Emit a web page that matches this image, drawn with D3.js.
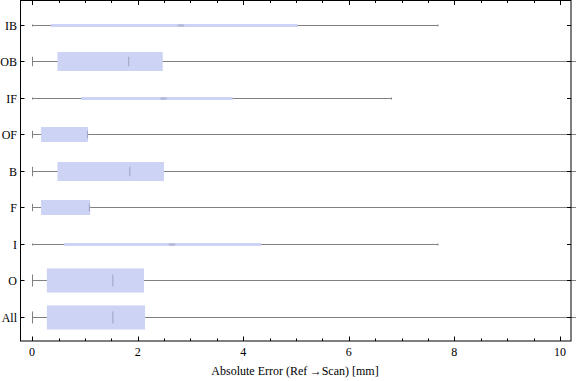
<!DOCTYPE html>
<html><head><meta charset="utf-8">
<script src="https://cdn.jsdelivr.net/npm/d3@7"></script>
<style>body{margin:0;background:#fff}svg{display:block}</style>
</head><body>
<svg id="c" width="576" height="381"></svg>
<script>
const categories = ["IB","OB","IF","OF","B","F","I","O","All"];
const mins    = [0,0,0,0,0,0,0,0,0];
const q1s     = [0.36,0.48,0.93,0.17,0.48,0.17,0.61,0.28,0.28];
const medians = [2.82,1.83,2.49,1.05,1.85,1.085,2.65,1.53,1.53];
const q3s     = [5.03,2.475,3.80,1.06,2.50,1.10,4.34,2.12,2.14];
const maxs    = [7.69,10.9,6.81,10.9,10.9,10.9,7.69,10.9,10.9];
const relWidths = [0.08,0.52,0.08,0.41,0.52,0.41,0.08,0.66,0.66];
const xTicks = [0,2,4,6,8,10];
const xTitle = "Absolute Error (Ref\u2009\u2192Scan) [mm]";

const svg = d3.select("#c");
const L=20.5, R=571, T=0.5, B=341;
const x = d3.scaleLinear().domain([-0.22,10.21]).range([L,R]);
const y = d3.scalePoint().domain(categories).range([T,B]).padding(0.66);
const step = y.step();
const font = "'Liberation Serif','Times New Roman',serif";

const data = categories.map((c,i)=>({c,min:mins[i],q1:q1s[i],med:medians[i],q3:q3s[i],max:maxs[i],w:relWidths[i]*step}));

const g = svg.append("g");
data.forEach(d=>{
  const cy = Math.round(y(d.c))+0.5;
  g.append("line").attr("x1",x(d.min)).attr("x2",x(d.max)).attr("y1",cy).attr("y2",cy)
    .attr("stroke","#808080").attr("stroke-width",1);
  const capH = Math.max(d.w/2,2);
  g.append("line").attr("x1",Math.round(x(d.min))+0.5).attr("x2",Math.round(x(d.min))+0.5)
    .attr("y1",cy-capH/2).attr("y2",cy+capH/2).attr("stroke","#808080");
  if (x(d.max) < R) {
    g.append("line").attr("x1",x(d.max)).attr("x2",x(d.max))
      .attr("y1",cy-capH/2).attr("y2",cy+capH/2).attr("stroke","#808080");
  }
  g.append("rect").attr("x",x(d.q1)).attr("width",x(d.q3)-x(d.q1))
    .attr("y",cy-d.w/2).attr("height",d.w).attr("fill","#ccd3f5");
  if (d.w > 6) {
    g.append("line").attr("x1",x(d.med)).attr("x2",x(d.med))
      .attr("y1",cy-d.w/4).attr("y2",cy+d.w/4).attr("stroke","#a3a6c2").attr("stroke-width",1.1);
  } else {
    g.append("ellipse").attr("cx",x(d.med)).attr("cy",cy).attr("rx",3.5).attr("ry",1.3)
      .attr("fill","#a0a3bd").attr("opacity",0.55);
  }
});

// frame
svg.append("rect").attr("x",L).attr("y",T).attr("width",R-L).attr("height",B-T)
  .attr("fill","none").attr("stroke","#000").attr("stroke-width",1);

// x ticks bottom and top
const minor = d3.range(0,10.01,0.5);
minor.forEach(v=>{
  const major = Math.abs(v%2)<1e-9;
  const len = major?4.5:2.5;
  const px = Math.round(x(v))+0.5;
  svg.append("line").attr("x1",px).attr("x2",px).attr("y1",B).attr("y2",B-len).attr("stroke","#000");
  svg.append("line").attr("x1",px).attr("x2",px).attr("y1",T).attr("y2",T+len).attr("stroke","#000");
});
xTicks.forEach(v=>{
  svg.append("text").attr("x",x(v)).attr("y",356).attr("text-anchor","middle")
    .attr("font-family",font).attr("font-size",12).attr("fill","#000").text(v);
});
svg.append("text").attr("x",295).attr("y",375).attr("text-anchor","middle")
  .attr("font-family",font).attr("font-size",12).attr("fill","#000").text(xTitle);

// y ticks
categories.forEach(c=>{
  const cy = Math.round(y(c))+0.5;
  svg.append("line").attr("x1",L).attr("x2",L+4).attr("y1",cy).attr("y2",cy).attr("stroke","#000");
  svg.append("line").attr("x1",R).attr("x2",R-4).attr("y1",cy).attr("y2",cy).attr("stroke","#000");
  svg.append("text").attr("x",17).attr("y",cy+4).attr("text-anchor","end")
    .attr("font-family",font).attr("font-size",12).attr("fill","#000").text(c);
});
</script>
</body></html>
